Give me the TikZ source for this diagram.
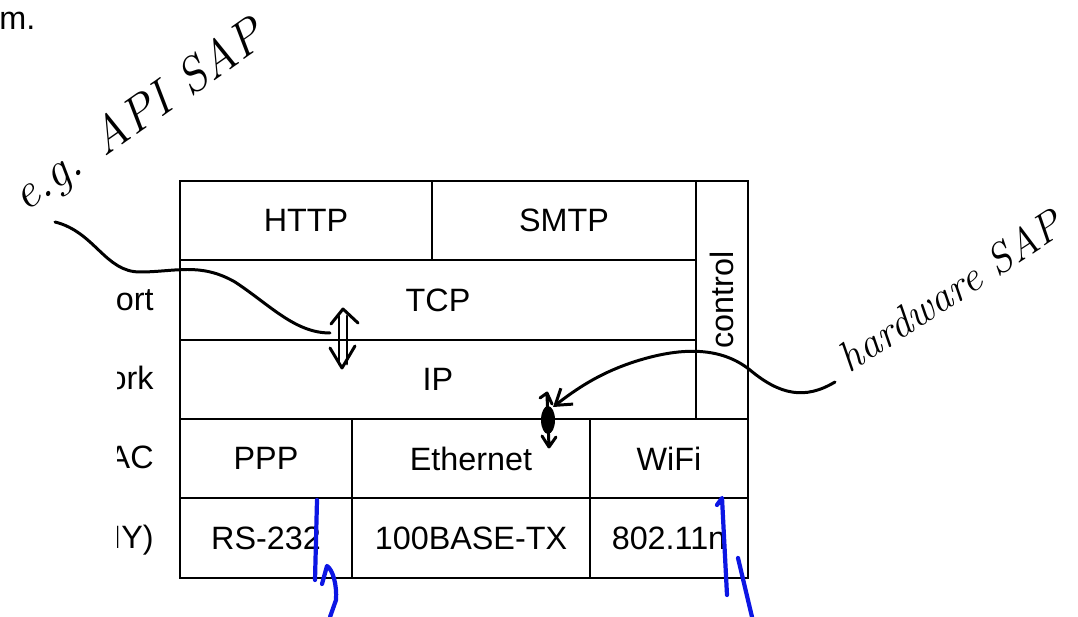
\documentclass[tikz,border=0pt]{standalone}
\usepackage{fontspec}
\setsansfont{Liberation Sans}
\usetikzlibrary{arrows.meta}
\definecolor{penblue}{RGB}{12,22,228}
\tikzset{
  cell/.style={draw, line width=1.1pt, inner sep=0pt, font=\sffamily\fontsize{18.4}{22}\selectfont},
  side/.style={anchor=base east, inner sep=0pt, font=\sffamily\fontsize{18.4}{22}\selectfont},
  hand/.style={line width=1.7pt, line cap=round, line join=round},
  scrawl/.style={anchor=base, inner sep=0pt, font=\itshape\fontsize{#1}{#1}\selectfont},
  marker/.style={penblue, line width=2.4pt, line cap=round, line join=round}
}
\begin{document}
\begin{tikzpicture}[x=0.02cm, y=-0.02cm]
            \useasboundingbox (0,0) rectangle (1078,617);
            \node[cell, minimum width=5.04cm, minimum height=1.58cm] (http) at (306,220.5) {HTTP};
            \node[cell, minimum width=5.28cm, minimum height=1.58cm] (smtp) at (564,220.5) {SMTP};
            \node[cell, minimum width=10.32cm, minimum height=1.6cm] (tcp) at (438,300) {TCP};
            \node[cell, minimum width=10.32cm, minimum height=1.58cm] (ip) at (438,379.5) {IP};
            \node[cell, minimum width=4.76cm, minimum height=1.04cm, rotate=90] (ctrl) at (722,300) {control};
            \node[cell, minimum width=3.44cm, minimum height=1.58cm] (ppp) at (266,458.5) {PPP};
            \node[cell, minimum width=4.76cm, minimum height=1.58cm] (eth) at (471,458.5) {Ethernet};
            \node[cell, minimum width=3.16cm, minimum height=1.58cm] (wifi) at (669,458.5) {WiFi};
            \node[cell, minimum width=3.44cm, minimum height=1.6cm] (rs) at (266,538) {RS-232};
            \node[cell, minimum width=4.76cm, minimum height=1.6cm] (base) at (471,538) {100BASE-TX};
            \node[cell, minimum width=3.16cm, minimum height=1.6cm] (wlan) at (669,538) {802.11n};
            \node[side, anchor=base west] (cut) at (-1,30) {m.};
            \begin{scope}
                \clip (117,260) rectangle (180,578);
                \node[side] (transport) at (154,311) {ort};
                \node[side] (network) at (154,390) {ork};
                \node[side] (mac) at (154,469) {AC};
                \node[side] (phy) at (154,549) {IY)};
            \end{scope}
            \node[scrawl=28, rotate=35] (api) at (147,128) {e.g. API SAP};
            \node[scrawl=24, rotate=33] (hw) at (958,303) {hardware SAP};
            \coordinate (apiTail) at (55,222);
            \coordinate (apiHead) at (330,333);
            \coordinate (hwTail) at (835,382);
            \coordinate (hwHead) at (553,407);
            \draw[hand] (apiTail) .. controls (95,232) and (105,272) .. (140,272)
                .. controls (175,272) and (200,262) .. (235,282)
                .. controls (270,305) and (295,333) .. (apiHead);
            \draw[hand] (339,316) -- (339,364) (347,316) -- (347,364);
            \draw[hand] (331,324) -- (343,309) -- (358,323);
            \draw[hand] (330,348) -- (342,368) -- (355,346);
            \draw[hand, -{Straight Barb[length=3mm, width=4mm]}] (hwTail) .. controls (805,400) and (780,395) .. (750,370)
                .. controls (725,350) and (690,345) .. (640,360)
                .. controls (600,372) and (575,390) .. (hwHead);
            \fill (548,420) ellipse (7 and 14);
            \draw[hand] (540,398) -- (547,393) -- (552,404) (547,395) -- (549,447) (542,436) -- (549,447) -- (556,437);
            \draw[marker] (317,500) -- (315,580);
            \draw[marker] (322,584) -- (327,566) .. controls (333,570) and (337,585) .. (336,600) -- (330,617);
            \draw[marker] (717,505) -- (722,498) -- (727,595);
            \draw[marker] (738,558) -- (752,617);
\end{tikzpicture}
\end{document}
